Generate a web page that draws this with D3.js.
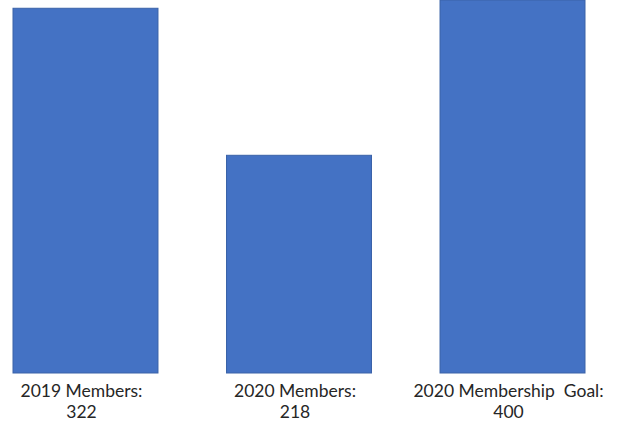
<!DOCTYPE html>
<html>
<head>
<meta charset="utf-8">
<script src="https://cdn.jsdelivr.net/npm/d3@7"></script>
<style>
  html, body { margin: 0; padding: 0; background: #ffffff; }
  svg { display: block; }
  text { white-space: pre; }
</style>
</head>
<body>
<svg id="chart" width="624" height="423"></svg>
<script>
// Data
const categories = ["2019 Members:", "2020 Members:", "2020 Membership  Goal:"];
const values = [322, 218, 400];
const valueLabels = ["322", "218", "400"];

const W = 624, H = 423;
const svg = d3.select("#chart");

const x = d3.scaleBand()
  .domain(categories)
  .range([13, 585])
  .paddingInner(0.321)
  .paddingOuter(0);

const y = d3.scaleLinear()
  .domain([64, 400])
  .range([373, -102]);

const g = svg.append("g");

g.selectAll("rect.bar")
  .data(categories.map((c, i) => ({ c, v: values[i] })))
  .join("rect")
  .attr("class", "bar")
  .attr("x", d => x(d.c))
  .attr("width", x.bandwidth())
  .attr("y", d => Math.max(y(d.v), 0))
  .attr("height", d => y(y.domain()[0]) - Math.max(y(d.v), 0))
  .attr("fill", "#4472C4")
  .attr("stroke", "#3A62A8")
  .attr("stroke-width", 1);

const labels = g.selectAll("text.lbl")
  .data(categories.map((c, i) => ({ c, l: valueLabels[i] })))
  .join("text")
  .attr("class", "lbl")
  .attr("text-anchor", "middle")
  .attr("font-family", "Lato, 'Open Sans', sans-serif")
  .attr("font-size", 17.5)
  .attr("fill", "#262626")
  .attr("transform", d => `translate(${x(d.c) + x.bandwidth() / 2 - 4},0)`);

labels.append("tspan").attr("x", 0).attr("y", 397).text(d => d.c);
labels.append("tspan").attr("x", 0).attr("y", 418).text(d => d.l);
</script>
</body>
</html>
